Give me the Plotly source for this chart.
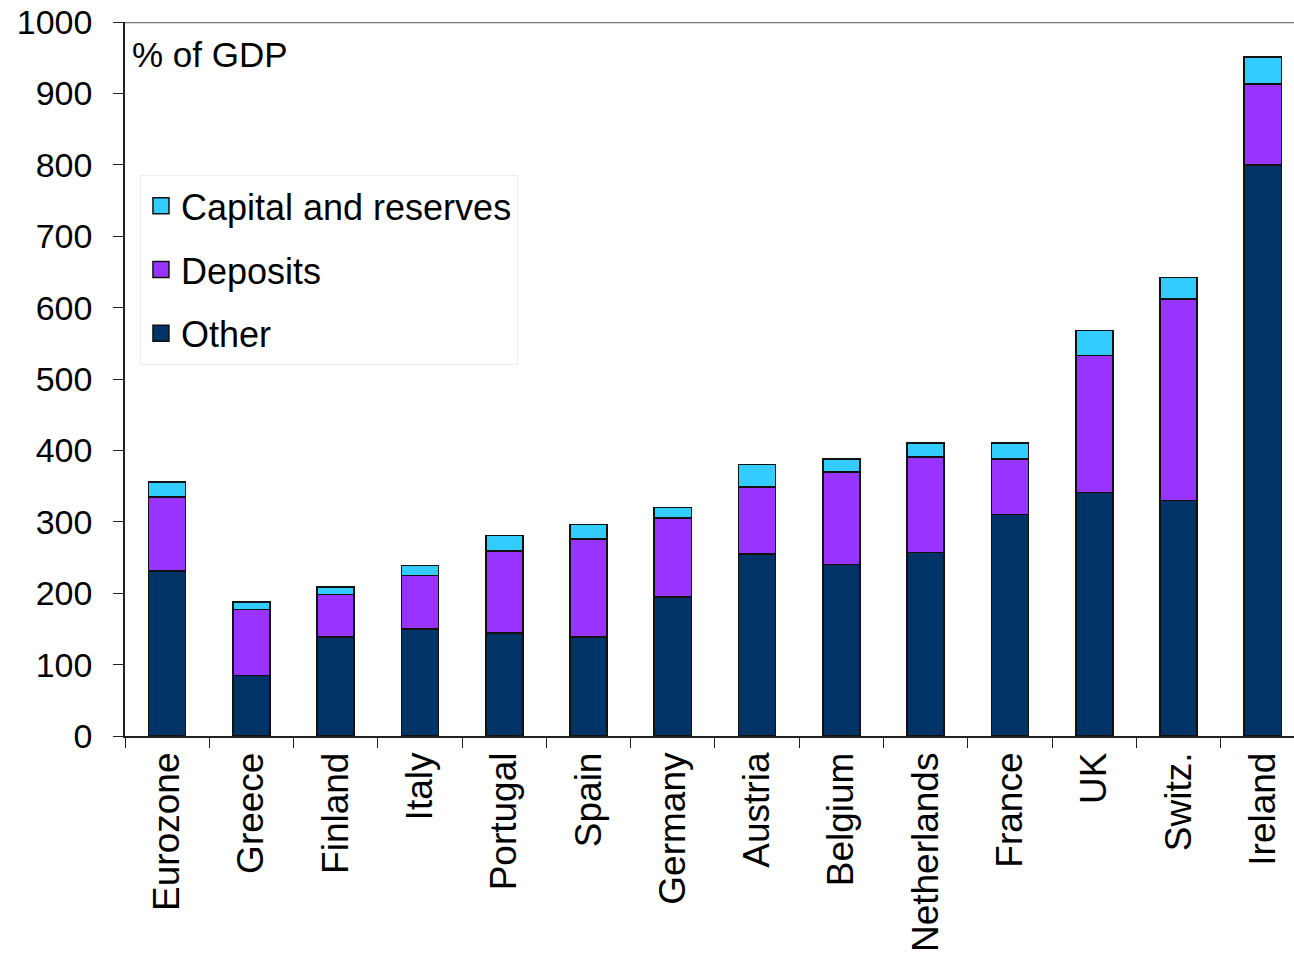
import plotly.graph_objects as go

# Bank liabilities by type, % of GDP
countries = ["Eurozone", "Greece", "Finland", "Italy", "Portugal", "Spain", "Germany",
             "Austria", "Belgium", "Netherlands", "France", "UK", "Switz.", "Ireland"]
other = [231, 85, 139, 150, 144, 139, 195, 255, 240, 257, 310, 341, 330, 800]
deposits = [104, 92, 59, 75, 115, 137, 110, 94, 130, 134, 78, 192, 282, 113]
capital = [21, 11, 11, 14, 22, 20, 15, 31, 18, 19, 22, 35, 30, 38]

y_ticks = list(range(0, 1001, 100))

FONT = "Liberation Sans, Arial, sans-serif"

fig = go.Figure()
series = [
    ("Other", other, "#003366", 3),
    ("Deposits", deposits, "#9933FF", 2),
    ("Capital and reserves", capital, "#33CCFF", 1),
]
for name, vals, color, rank in series:
    fig.add_trace(go.Bar(
        x=countries, y=vals, name=name, showlegend=False,
        marker=dict(color=color, line=dict(color="#111111", width=1.6)),
    ))
    # legend key: larger square swatch than the default bar key
    fig.add_trace(go.Scatter(
        x=[None], y=[None], mode="markers", name=name, legendgroup=name,
        legendrank=rank,
        marker=dict(symbol="square", size=18, color=color,
                    line=dict(color="#111111", width=1.5)),
    ))

fig.update_layout(
    width=1294, height=960,
    barmode="stack", bargap=0.56,
    paper_bgcolor="white", plot_bgcolor="white",
    margin=dict(l=125, r=0, t=22, b=224),
    font=dict(family=FONT, color="black"),
    showlegend=True,
    legend=dict(
        x=0.0128, y=0.786, xanchor="left", yanchor="top",
        traceorder="grouped", tracegroupgap=14, itemsizing="trace",
        bgcolor="white", bordercolor="#eeeeee", borderwidth=1,
        font=dict(family=FONT, size=36, color="black"),
    ),
    xaxis=dict(
        range=[-0.5, 13.37], showline=True, linecolor="#222222", linewidth=1.5,
        ticks="outside", tickson="boundaries", ticklen=10, tickcolor="#222222",
        tickangle=-90, tickfont=dict(family=FONT, size=37), showgrid=False,
    ),
    yaxis=dict(
        range=[0, 1000], tickvals=y_ticks, showline=True, linecolor="#222222",
        linewidth=1.5, ticks="outside", ticklen=10, tickcolor="#222222",
        tickfont=dict(family=FONT, size=34), showgrid=False, zeroline=False,
        ticklabelstandoff=14,
    ),
)

# top frame line at the 1000 level
fig.add_shape(type="line", xref="paper", yref="y", x0=0, x1=1, y0=1000, y1=1000,
              line=dict(color="#777777", width=2.5))

fig.add_annotation(text="% of GDP", xref="paper", yref="paper", x=0.004, y=0.985,
                   xanchor="left", yanchor="top", showarrow=False,
                   font=dict(family=FONT, size=35, color="black"))

fig.write_html("out.html")
